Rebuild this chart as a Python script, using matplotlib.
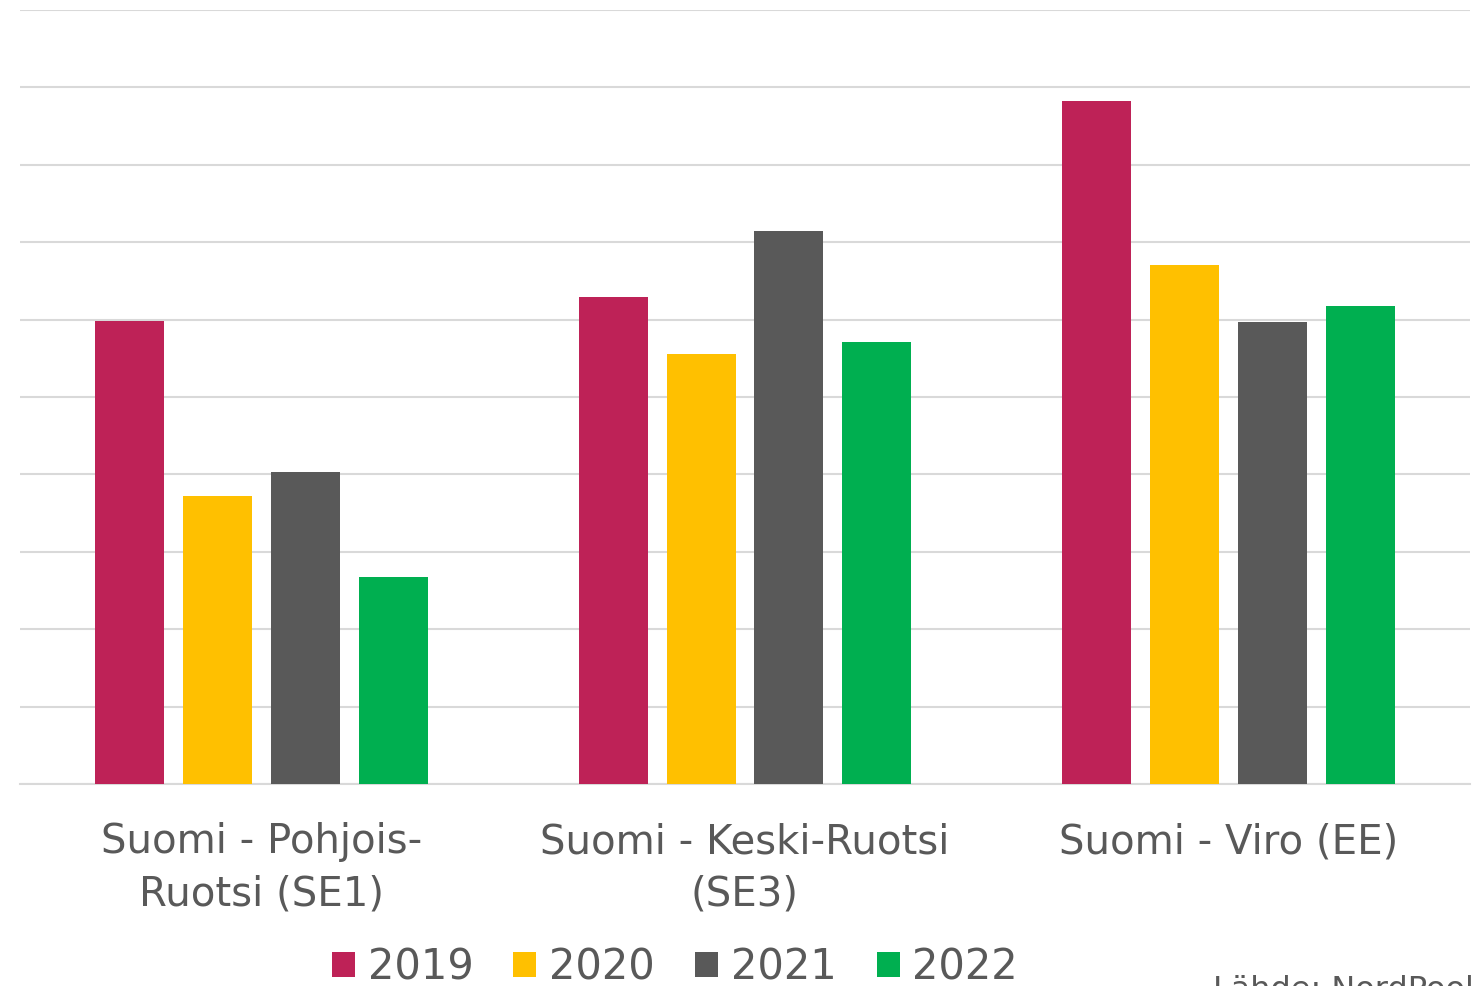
import numpy as np
import matplotlib.pyplot as plt

plt.rcParams['font.family'] = ['DejaVu Sans']

categories = ['Suomi - Pohjois-\nRuotsi (SE1)', 'Suomi - Keski-Ruotsi\n(SE3)', 'Suomi - Viro (EE)']
years = ['2019', '2020', '2021', '2022']
values = {
    '2019': [5.98, 6.29, 8.82],
    '2020': [3.72, 5.56, 6.71],
    '2021': [4.03, 7.14, 5.97],
    '2022': [2.67, 5.71, 6.18],
}
colors = ['#BE2257', '#FFC000', '#595959', '#00AF50']
text_col = '#595959'

fig = plt.figure(figsize=(14.75, 9.87), dpi=100)
ax = fig.add_axes([20 / 1475, (987 - 785) / 987, 1450 / 1475, (785 - 11) / 987])

x = np.arange(len(categories))
step = 0.182
width = 0.1428
for i, yr in enumerate(years):
    ax.bar(x + (i - 1.5) * step, values[yr], width=width, color=colors[i], label=yr, zorder=3)

ax.set_xlim(-0.5, 2.5)
ax.set_ylim(0, 10)
ax.set_yticks(np.arange(0, 11, 1))
ax.yaxis.grid(True, color='#D9D9D9', linewidth=1.5, zorder=0)
ax.set_yticklabels([])
ax.tick_params(axis='y', length=0)
for s in ['top', 'right', 'left']:
    ax.spines[s].set_visible(False)
ax.spines['bottom'].set_color('#D9D9D9')
ax.spines['bottom'].set_linewidth(1.5)

ax.set_xticks(x)
ax.set_xticklabels(categories, fontsize=29, color=text_col, linespacing=1.4)
ax.tick_params(axis='x', length=0, pad=27)

leg = fig.legend(loc='center', bbox_to_anchor=(675 / 1475, 1 - 968 / 987), ncol=4, frameon=False,
                 fontsize=30, handlelength=0.55, handleheight=0.55, handletextpad=0.31,
                 columnspacing=0.96, borderaxespad=0, borderpad=0)
for t in leg.get_texts():
    t.set_color(text_col)

fig.text(1213 / 1475, 1 - 999 / 987, 'Lähde: NordPool', fontsize=23, color=text_col, ha='left', va='baseline')

plt.savefig('out.png', dpi=100)
